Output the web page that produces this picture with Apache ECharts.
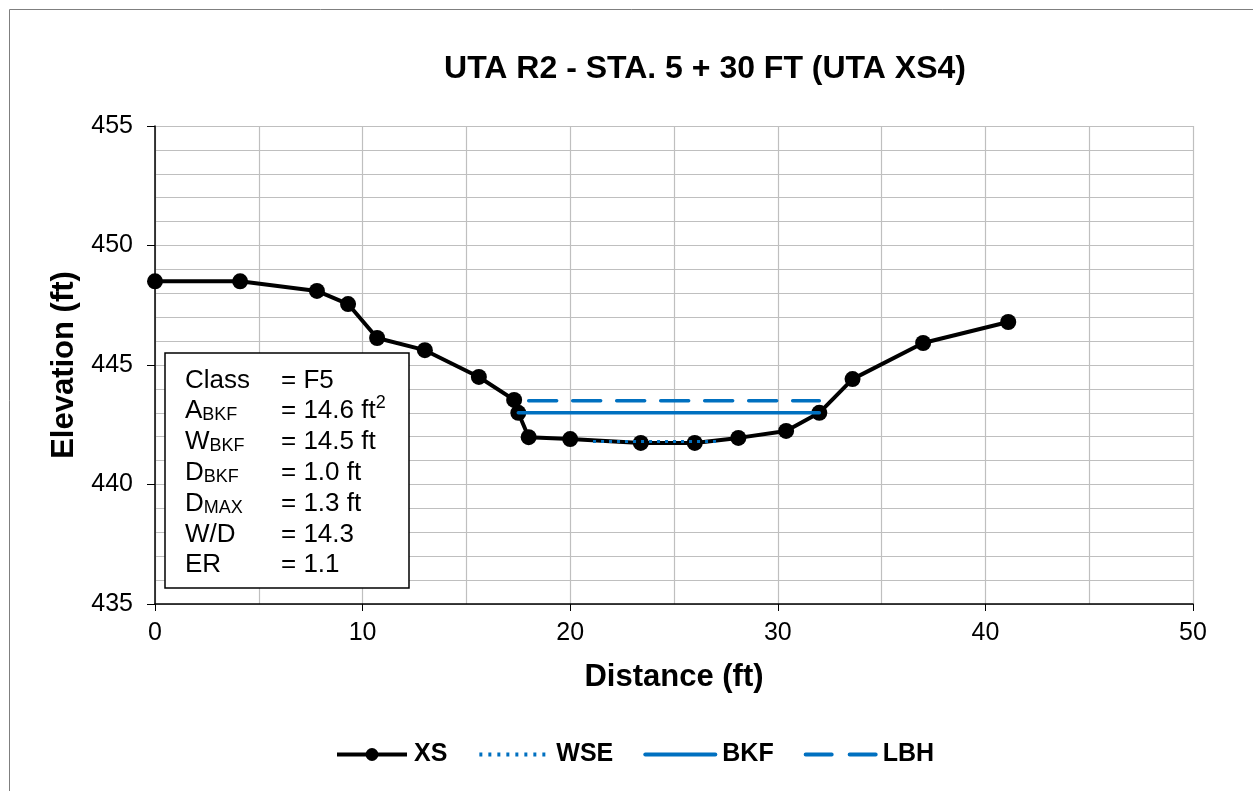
<!DOCTYPE html>
<html>
<head>
<meta charset="utf-8">
<script src="https://cdn.jsdelivr.net/npm/echarts@6/dist/echarts.min.js"></script>
<style>html,body{margin:0;padding:0;background:#fff}#c{width:1253px;height:791px}</style>
</head>
<body>
<div id="c"></div>
<script>
const xsDist = [0, 4.1, 7.8, 9.3, 10.7, 13.0, 15.6, 17.3, 17.5, 18.0, 20.0, 23.4, 26.0, 28.1, 30.4, 32.0, 33.6, 37.0, 41.1];
const xsElev = [448.5, 448.5, 448.1, 447.55, 446.13, 445.62, 444.5, 443.54, 443.0, 441.98, 441.9, 441.74, 441.74, 441.95, 442.24, 443.0, 444.41, 445.92, 446.8];
const wseDist = [21.1, 27.1];
const wseElev = [441.8, 441.8];
const bkfDist = [17.5, 32.0];
const bkfElev = [443.0, 443.0];
const lbhDist = [18.0, 32.0];
const lbhElev = [443.5, 443.5];
const seriesNames = ['XS', 'WSE', 'BKF', 'LBH'];
const statLabels = [['Class', ''], ['A', 'BKF'], ['W', 'BKF'], ['D', 'BKF'], ['D', 'MAX'], ['W/D', ''], ['ER', '']];
const statValues = ['= F5', '= 14.6 ft', '= 14.5 ft', '= 1.0 ft', '= 1.3 ft', '= 14.3', '= 1.1'];
const statSup = ['', '2', '', '', '', '', ''];

const pair = (xs, ys) => xs.map((x, i) => [x, ys[i]]);
const FONT = '"Liberation Sans", Arial, sans-serif';
const BLUE = '#0070C0';

const chart = echarts.init(document.getElementById('c'), null, {renderer: 'canvas'});

const statTexts = [];
statLabels.forEach((l, i) => {
  const y = 378.5 + i * 30.8;
  statTexts.push({
    type: 'text', x: 185, y: y - 15, z: 101,
    style: {
      text: '{m|' + l[0] + '}' + (l[1] ? '{s|' + l[1] + '}' : ''),
      rich: {
        m: {fontSize: 26, fontFamily: FONT, fill: '#000', verticalAlign: 'bottom', lineHeight: 30},
        s: {fontSize: 18, fontFamily: FONT, fill: '#000', verticalAlign: 'bottom', lineHeight: 28}
      }
    }
  });
  statTexts.push({
    type: 'text', x: 281, y: y - 15, z: 101,
    style: {
      text: '{m|' + statValues[i] + '}' + (statSup[i] ? '{p|' + statSup[i] + '}' : ''),
      rich: {
        m: {fontSize: 26, fontFamily: FONT, fill: '#000', verticalAlign: 'bottom', lineHeight: 30},
        p: {fontSize: 18, fontFamily: FONT, fill: '#000', verticalAlign: 'top', lineHeight: 30}
      }
    }
  });
});

chart.setOption({
  animation: false,
  backgroundColor: '#fff',
  title: {
    text: 'UTA R2 - STA. 5 + 30 FT (UTA XS4)',
    left: 700, top: 48, textAlign: 'center',
    textStyle: {fontFamily: FONT, fontSize: 32, fontWeight: 'bold', color: '#000'}
  },
  grid: {left: 155, top: 126, right: 60, bottom: 187, containLabel: false},
  legend: {
    top: 737, left: 330,
    itemWidth: 70, itemHeight: 16, itemGap: 30,
    data: [
      {name: 'XS', lineStyle: {width: 4}},
      {name: 'WSE', itemStyle: {opacity: 0}, lineStyle: {width: 4, type: [3, 6]}},
      {name: 'BKF', itemStyle: {opacity: 0}, lineStyle: {width: 4}},
      {name: 'LBH', itemStyle: {opacity: 0}, lineStyle: {width: 4, type: [26, 18]}}
    ],
    textStyle: {fontFamily: FONT, fontSize: 25, fontWeight: 'bold', color: '#000', padding: [0, 0, 0, 2]}
  },
  xAxis: {
    type: 'value', min: 0, max: 50, interval: 10,
    name: 'Distance (ft)', nameLocation: 'middle', nameGap: 58,
    nameTextStyle: {fontFamily: FONT, fontSize: 31, fontWeight: 'bold', color: '#000'},
    axisLine: {show: true, onZero: false, lineStyle: {color: '#000', width: 1.5}},
    axisTick: {show: true, inside: false, length: 7, lineStyle: {color: '#000'}},
    axisLabel: {fontFamily: FONT, fontSize: 25, color: '#000', margin: 17},
    splitLine: {show: true, lineStyle: {color: '#BFBFBF', width: 1.2}},
    minorTick: {show: false, splitNumber: 2},
    minorSplitLine: {show: true, lineStyle: {color: '#BFBFBF', width: 1.2}}
  },
  yAxis: {
    type: 'value', min: 435, max: 455, interval: 5,
    name: 'Elevation (ft)', nameLocation: 'middle', nameGap: 74, nameRotate: 90,
    nameTextStyle: {fontFamily: FONT, fontSize: 31, fontWeight: 'bold', color: '#000'},
    axisLine: {show: true, lineStyle: {color: '#000', width: 1.5}},
    axisTick: {show: true, inside: false, length: 8, lineStyle: {color: '#000'}},
    axisLabel: {fontFamily: FONT, fontSize: 25, color: '#000', margin: 22},
    splitLine: {show: true, lineStyle: {color: '#BFBFBF', width: 1.2}},
    minorTick: {show: false, splitNumber: 5},
    minorSplitLine: {show: true, lineStyle: {color: '#BFBFBF', width: 1.2}}
  },
  graphic: [
    {type: 'rect', z: -10, silent: true,
     shape: {x: 9.5, y: 9.5, width: 1260, height: 800}, style: {fill: 'none', stroke: '#7f7f7f', lineWidth: 1}},
    {type: 'rect', z: 100,
     shape: {x: 165, y: 353, width: 244, height: 235}, style: {fill: '#fff', stroke: '#000', lineWidth: 1.5}}
  ].concat(statTexts),
  series: [
    {name: 'XS', type: 'line', data: pair(xsDist, xsElev), z: 2,
     symbol: 'circle', symbolSize: 16, showSymbol: true,
     itemStyle: {color: '#000'}, lineStyle: {color: '#000', width: 4}},
    {name: 'WSE', type: 'line', data: pair(wseDist, wseElev), z: 3,
     symbol: 'none', itemStyle: {color: BLUE},
     lineStyle: {color: BLUE, width: 3, type: [3, 5]}},
    {name: 'BKF', type: 'line', data: pair(bkfDist, bkfElev), z: 3,
     symbol: 'none', itemStyle: {color: BLUE},
     lineStyle: {color: BLUE, width: 3.5, cap: 'round'}},
    {name: 'LBH', type: 'line', data: pair(lbhDist, lbhElev), z: 3,
     symbol: 'none', itemStyle: {color: BLUE},
     lineStyle: {color: BLUE, width: 3.5, type: [28, 16], cap: 'round'}}
  ]
});
</script>
</body>
</html>
